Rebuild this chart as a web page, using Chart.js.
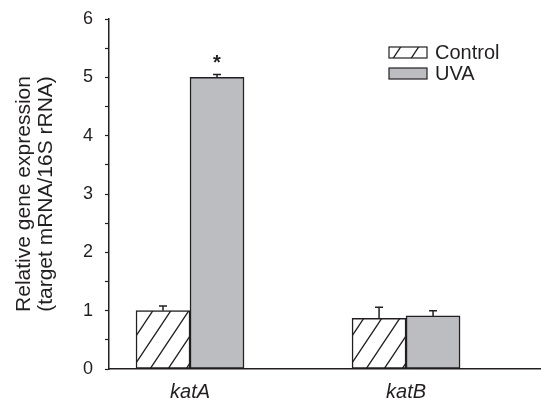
<!DOCTYPE html>
<html>
<head>
<meta charset="utf-8">
<script src="https://cdn.jsdelivr.net/npm/chart.js@4/dist/chart.umd.min.js"></script>
<style>
  html, body { margin: 0; padding: 0; background: #ffffff; }
  #wrap { width: 541px; height: 398px; }
</style>
</head>
<body>
<div id="wrap"><canvas id="c" width="541" height="398"></canvas></div>
<script>
// ---- data ----
const categories = ['katA', 'katB'];
const seriesNames = ['Control', 'UVA'];
const controlValues = [1.00, 0.87];
const controlErrors = [0.08, 0.19];
const uvaValues = [5.00, 0.91];
const uvaErrors = [0.05, 0.09];
const uvaSignificance = ['*', ''];
const yTicks = [0, 1, 2, 3, 4, 5, 6];
const yTitle = ['Relative gene expression', '(target mRNA/16S rRNA)'];

const INK = '#231f20';
const GREY = '#bcbdc0';
const FAMILY = '"Liberation Sans", Arial, sans-serif';

function makeHatch() {
  const w = 18, h = 27;
  const cv = document.createElement('canvas');
  cv.width = w; cv.height = h;
  const g = cv.getContext('2d');
  g.fillStyle = '#ffffff';
  g.fillRect(0, 0, w, h);
  g.strokeStyle = INK;
  g.lineWidth = 1.3;
  g.beginPath();
  g.moveTo(-w, 2 * h); g.lineTo(2 * w, -h);
  g.moveTo(-2 * w, 2 * h); g.lineTo(w, -h);
  g.moveTo(0, 2 * h); g.lineTo(3 * w, -h);
  g.stroke();
  return document.getElementById('c').getContext('2d').createPattern(cv, 'repeat');
}
const hatch = makeHatch();

const errorsByDataset = [controlErrors, uvaErrors];
const labelsByDataset = [null, uvaSignificance];

const errorBarPlugin = {
  id: 'errorBars',
  afterDatasetsDraw(chart) {
    const ctx = chart.ctx;
    const y = chart.scales.y;
    ctx.save();
    chart.data.datasets.forEach((ds, di) => {
      const meta = chart.getDatasetMeta(di);
      meta.data.forEach((bar, i) => {
        const v = ds.data[i].y;
        const e = errorsByDataset[di][i];
        const top = y.getPixelForValue(v + e);
        const base = y.getPixelForValue(v);
        ctx.strokeStyle = INK;
        ctx.lineWidth = 1.5;
        ctx.beginPath();
        ctx.moveTo(bar.x, base);
        ctx.lineTo(bar.x, top);
        ctx.moveTo(bar.x - 4, top);
        ctx.lineTo(bar.x + 4, top);
        ctx.stroke();
        const lab = labelsByDataset[di] && labelsByDataset[di][i];
        if (lab) {
          ctx.fillStyle = INK;
          ctx.font = 'bold 20px ' + FAMILY;
          ctx.textAlign = 'center';
          ctx.textBaseline = 'alphabetic';
          ctx.fillText(lab, bar.x, top - 5);
        }
      });
    });
    ctx.restore();
  }
};

const legendPlugin = {
  id: 'customLegend',
  afterDraw(chart) {
    const ctx = chart.ctx;
    ctx.save();
    chart.data.datasets.forEach((ds, i) => {
      const bx = 389, by = 47 + i * 21, bw = 38, bh = 11;
      ctx.fillStyle = ds.backgroundColor;
      ctx.fillRect(bx, by, bw, bh);
      ctx.strokeStyle = INK;
      ctx.lineWidth = 1.2;
      ctx.strokeRect(bx, by, bw, bh);
      ctx.fillStyle = INK;
      ctx.font = '20px ' + FAMILY;
      ctx.textAlign = 'left';
      ctx.textBaseline = 'middle';
      ctx.fillText(ds.label, 435, by + bh / 2 + 1);
    });
    ctx.restore();
  }
};

new Chart(document.getElementById('c'), {
  type: 'bar',
  data: {
    datasets: [
      {
        label: seriesNames[0],
        data: controlValues.map((v, i) => ({ x: i + 1, y: v })),
        backgroundColor: hatch,
        borderColor: INK,
        borderWidth: 1.5,
        borderSkipped: false
      },
      {
        label: seriesNames[1],
        data: uvaValues.map((v, i) => ({ x: i + 1, y: v })),
        backgroundColor: GREY,
        borderColor: INK,
        borderWidth: 1.5,
        borderSkipped: false
      }
    ]
  },
  options: {
    responsive: false,
    animation: false,
    events: [],
    barThickness: 54,
    layout: { padding: { top: 19, right: 1, bottom: 0, left: 0 } },
    plugins: { legend: { display: false }, tooltip: { enabled: false } },
    scales: {
      x: {
        type: 'linear',
        offset: false,
        min: 0.625,
        max: 2.62,
        afterBuildTicks: (s) => { s.ticks = categories.map((c, i) => ({ value: i + 1 })); },
        afterFit: (s) => { s.height = 29; s.paddingLeft = 0; s.paddingRight = 0; },
        grid: { display: false, offset: false },
        border: { display: true, color: INK, width: 1.5 },
        ticks: {
          callback: (v) => categories[v - 1] || '',
          color: INK,
          padding: 3,
          maxRotation: 0,
          font: { family: FAMILY, size: 20, style: 'italic' }
        }
      },
      y: {
        min: 0,
        max: 6,
        afterBuildTicks: (s) => {
          const t = [];
          for (let k = 0; k < yTicks.length; k++) {
            t.push({ value: yTicks[k] });
            if (k < yTicks.length - 1) t.push({ value: (yTicks[k] + yTicks[k + 1]) / 2 });
          }
          s.ticks = t;
        },
        afterFit: (s) => { s.width = 109; s.paddingTop = 0; s.paddingBottom = 0; },
        grid: { drawOnChartArea: false, drawTicks: true, tickLength: 4, tickColor: INK, tickWidth: 1.2 },
        border: { display: true, color: INK, width: 1.5 },
        ticks: {
          autoSkip: false,
          callback: (v) => (yTicks.includes(v) ? String(v) : ''),
          color: INK,
          padding: 12,
          font: { family: FAMILY, size: 18 }
        },
        title: {
          display: true,
          text: yTitle,
          color: INK,
          padding: { top: 13, bottom: 0 },
          font: { family: FAMILY, size: 21, lineHeight: 22 / 21 }
        }
      }
    }
  },
  plugins: [errorBarPlugin, legendPlugin]
});
</script>
</body>
</html>
